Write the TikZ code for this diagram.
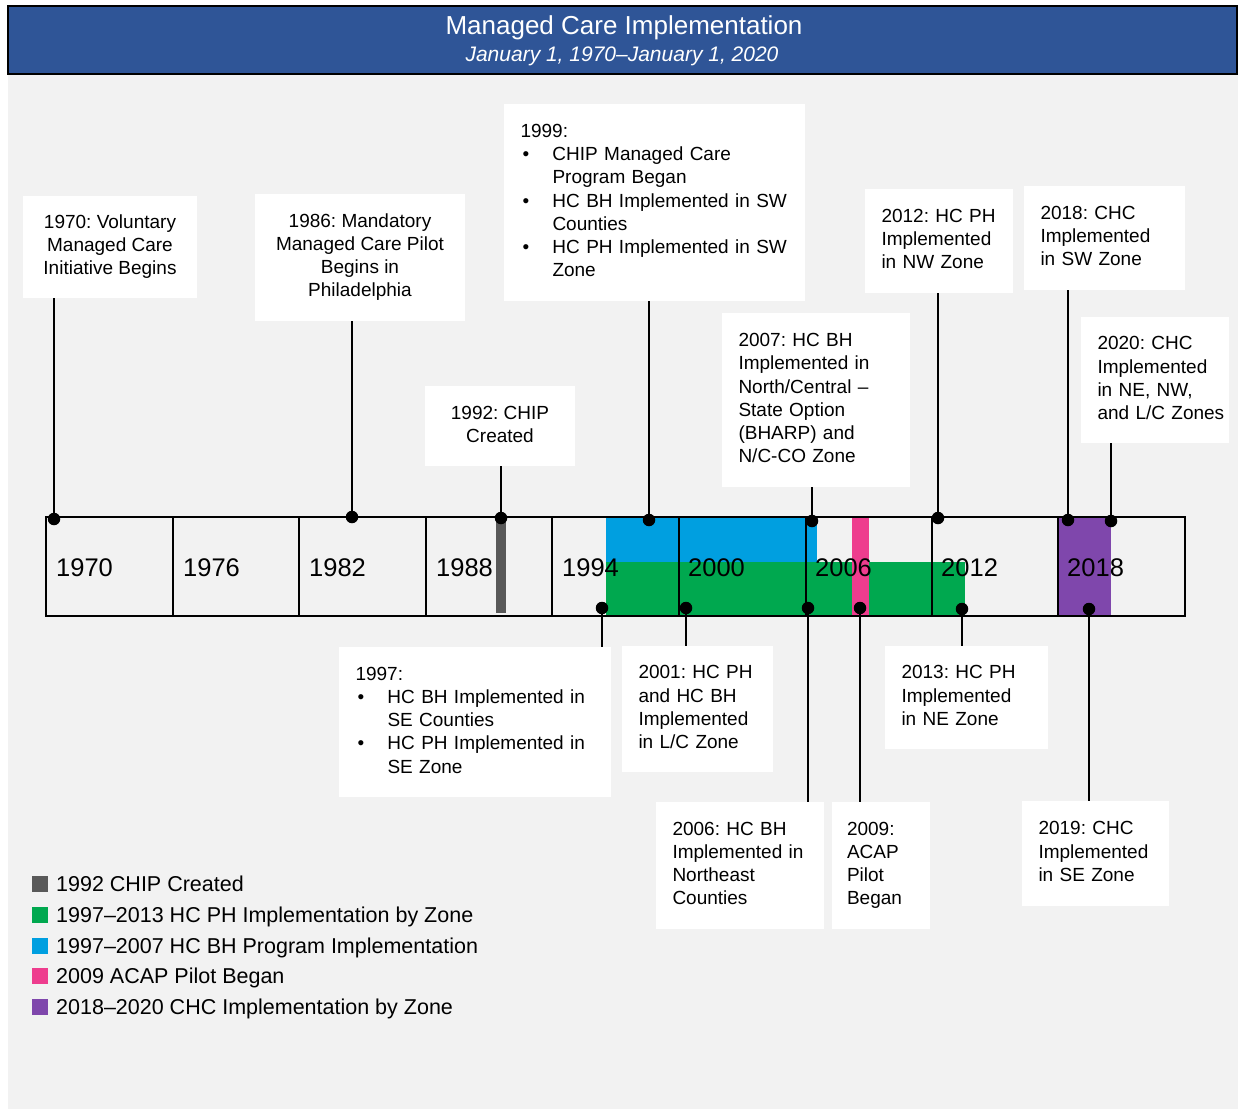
\documentclass[tikz,border=0pt]{standalone}
\usepackage{fontspec}
\setmainfont{Liberation Sans}
\frenchspacing
\definecolor{bggray}{HTML}{F2F2F2}
\definecolor{barblue}{HTML}{2F5597}
\definecolor{chipgray}{HTML}{595959}
\definecolor{phgreen}{HTML}{00A84F}
\definecolor{bhblue}{HTML}{009FE0}
\definecolor{acapmag}{HTML}{EE3D8E}
\definecolor{chcpurple}{HTML}{7F47AC}
\newcommand\mclines[1]{\begin{tabular}{@{}l@{}}#1\end{tabular}}
\newcommand\mcclines[1]{\begin{tabular}{@{}c@{}}#1\end{tabular}}
\newcommand\mcbul{\makebox[32pt][l]{\hspace{2pt}\textbullet}}
\newcommand\mcind{\hspace*{32pt}}
\newcommand\mcboxfont{\fontsize{19}{23.2}\selectfont\frenchspacing}
\tikzset{
  evl/.style={fill=white, inner xsep=16.5pt, inner ysep=0pt, align=left, font=\mcboxfont},
  evc/.style={fill=white, inner sep=0pt, align=center, font=\mcboxfont},
  evdot/.style={circle, fill=black, inner sep=0pt, minimum size=12.5pt},
  stem/.style={line width=2.5pt},
  grid/.style={line width=2pt},
  yearlab/.style={anchor=base west, inner sep=0pt, font=\fontsize{25.5}{30}\selectfont},
  legsq/.style={inner sep=0pt, minimum size=16pt},
  legtext/.style={anchor=base west, inner sep=0pt, font=\fontsize{21.5}{26}\selectfont},
}
\begin{document}
\begin{tikzpicture}[x=1pt,y=-1pt]
\useasboundingbox (0,0) rectangle (1238,1109);
% background
\fill[bggray] (8,74) rectangle (1238,1109);
% title bar
\node[fill=barblue, draw=black, line width=2.5pt, minimum width=1229pt, minimum height=68pt, inner sep=0pt] (titlebar) at (622.5,40) {};
\node[text=white, inner sep=0pt, font=\fontsize{26}{30}\selectfont] (title) at (624,28) {Managed Care Implementation};
\node[text=white, inner sep=0pt, font=\fontsize{21}{26}\selectfont\itshape] (subtitle) at (622,56) {January 1, 1970–January 1, 2020};

% coloured bars
\fill[chipgray] (496,520) rectangle (506,613);
\fill[bhblue] (606,518) rectangle (817,562);
\fill[phgreen] (606,562) rectangle (965,615);
\fill[acapmag] (852,518) rectangle (869,615);
\fill[chcpurple] (1057,518) rectangle (1111,615);

% timeline grid
\node[draw=black, line width=2.5pt, minimum width=1139pt, minimum height=99pt, inner sep=0pt] (tl) at (615.5,566.5) {};
\foreach \x in {173,299,426,552,679,806,932,1058}
  \draw[grid] (\x,517) -- (\x,616);
\foreach \x/\yr in {56/1970,183/1976,309/1982,436/1988,562/1994,688/2000,815/2006,941/2012,1067/2018}
  \node[yearlab] (y\yr) at (\x,576) {\yr};

% event boxes above
\node[evc, minimum width=174pt, minimum height=102pt] (b1970) at (110,247)
  {\mcclines{1970: Voluntary\\Managed Care\\Initiative Begins}};
\node[evc, minimum width=210pt, minimum height=127pt] (b1986) at (360,257.5)
  {\mcclines{1986: Mandatory\\Managed Care Pilot\\Begins in\\Philadelphia}};
\node[evc, minimum width=150pt, minimum height=80pt] (b1992) at (500,426)
  {\mcclines{1992: CHIP\\Created}};
\node[evl, minimum width=301pt, minimum height=197pt, text width=268pt] (b1999) at (654.5,202.5)
  {\mclines{1999:\\\mcbul CHIP Managed Care\\\mcind Program Began\\\mcbul HC BH Implemented in SW\\\mcind Counties\\\mcbul HC PH Implemented in SW\\\mcind Zone}};
\node[evl, minimum width=188pt, minimum height=174pt, text width=155pt] (b2007) at (816,400)
  {\mclines{2007: HC BH\\Implemented in\\North/Central –\\State Option\\(BHARP) and\\N/C-CO Zone}};
\node[evl, minimum width=148pt, minimum height=104pt, text width=115pt] (b2012) at (939,241)
  {\mclines{2012: HC PH\\Implemented\\in NW Zone}};
\node[evl, minimum width=161pt, minimum height=104pt, text width=128pt] (b2018) at (1104.5,238)
  {\mclines{2018: CHC\\Implemented\\in SW Zone}};
\node[evl, minimum width=148pt, minimum height=126pt, text width=115pt] (b2020) at (1155,380)
  {\mclines{2020: CHC\\Implemented\\in NE, NW,\\and L/C Zones}};

% event boxes below
\node[evl, minimum width=272pt, minimum height=150pt, text width=239pt] (b1997) at (475,722)
  {\mclines{1997:\\\mcbul HC BH Implemented in\\\mcind SE Counties\\\mcbul HC PH Implemented in\\\mcind SE Zone}};
\node[evl, minimum width=151pt, minimum height=126pt, text width=118pt] (b2001) at (697.5,709)
  {\mclines{2001: HC PH\\and HC BH\\Implemented\\in L/C Zone}};
\node[evl, minimum width=168pt, minimum height=127pt, text width=135pt] (b2006) at (740,865.5)
  {\mclines{2006: HC BH\\Implemented in\\Northeast\\Counties}};
\node[evl, minimum width=98pt, minimum height=127pt, text width=68pt, inner xsep=15pt] (b2009) at (881,865.5)
  {\mclines{2009:\\ACAP\\Pilot\\Began}};
\node[evl, minimum width=163pt, minimum height=103pt, text width=130pt] (b2013) at (966.5,697.5)
  {\mclines{2013: HC PH\\Implemented\\in NE Zone}};
\node[evl, minimum width=147pt, minimum height=105pt, text width=114pt] (b2019) at (1095.5,853.5)
  {\mclines{2019: CHC\\Implemented\\in SE Zone}};

% dots
\foreach \n/\x/\y in {1970/54/519,1986/352/517,1992/501/518,1999/649/520,2007/812/521,2012/938/518,2018/1068/520,2020/1111/521,1997/602/608,2001/686/608,2006/808/608,2009/860/608,2013/962/609,2019/1089/609}
  \node[evdot] (d\n) at (\x,\y) {};

% stems
\foreach \n in {1970,1986,1992,1999,2007,2012,2018,2020}
  \draw[stem] (d\n.center) -- (d\n.center |- b\n.south);
\foreach \n in {1997,2001,2006,2009,2013,2019}
  \draw[stem] (d\n.center) -- (d\n.center |- b\n.north);

% legend
\foreach \i/\c/\t in {0/chipgray/1992 CHIP Created,1/phgreen/1997–2013 HC PH Implementation by Zone,2/bhblue/1997–2007 HC BH Program Implementation,3/acapmag/2009 ACAP Pilot Began,4/chcpurple/2018–2020 CHC Implementation by Zone}{
  \node[legsq, fill=\c] (ls\i) at (40,884+30.8*\i) {};
  \node[legtext] (lt\i) at (56,891.5+30.8*\i) {\t};
}
\end{tikzpicture}
\end{document}
